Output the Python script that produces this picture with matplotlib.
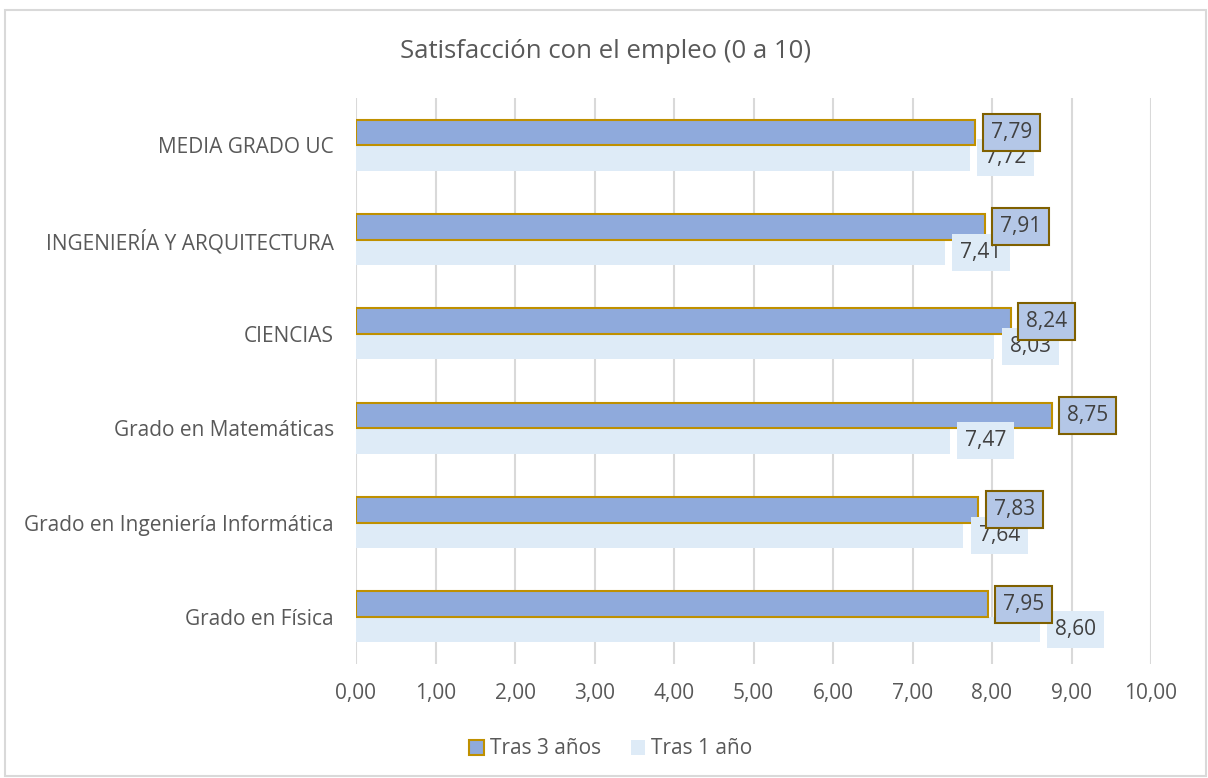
import matplotlib.pyplot as plt
from matplotlib.patches import Rectangle
import numpy as np

# Chart data
categories = [
    "MEDIA GRADO UC",
    "INGENIERÍA Y ARQUITECTURA",
    "CIENCIAS",
    "Grado en Matemáticas",
    "Grado en Ingeniería Informática",
    "Grado en Física",
]
tras_3_anos = [7.79, 7.91, 8.24, 8.75, 7.83, 7.95]
tras_1_ano = [7.72, 7.41, 8.03, 7.47, 7.64, 8.60]
x_ticks = [0, 1, 2, 3, 4, 5, 6, 7, 8, 9, 10]

plt.rcParams["font.family"] = ["Open Sans", "DejaVu Sans"]
text_color = "#595959"
color_3 = "#8faadc"
edge_3 = "#bf9000"
color_1 = "#deebf7"

fig = plt.figure(figsize=(12.08, 7.78), dpi=100)
ax = fig.add_axes([356 / 1208, 1 - 664 / 778, 795 / 1208, 566 / 778])

# Light grey outer frame like the spreadsheet chart area
fig.patches.append(Rectangle((5 / 1208, 0.002), 1201 / 1208, 1 - 10 / 778 - 0.002,
                             transform=fig.transFigure, fill=False,
                             edgecolor="#d9d9d9", linewidth=1.5))

y = np.arange(len(categories))
h = 0.27

ax.barh(y - h / 2, tras_3_anos, height=h, color=color_3, edgecolor=edge_3,
        linewidth=1.5, label="Tras 3 años", zorder=3)
ax.barh(y + h / 2, tras_1_ano, height=h, color=color_1, edgecolor="none",
        label="Tras 1 año", zorder=2)

# Data labels: 1 year first so the 3-year boxes sit on top
for yi, v in zip(y, tras_1_ano):
    ax.annotate(f"{v:.2f}".replace(".", ","), (v, yi + h / 2), xytext=(11, 0),
                textcoords="offset points", ha="left", va="center",
                fontsize=15, color="#404040", zorder=4,
                bbox=dict(boxstyle="square,pad=0.38", facecolor=color_1, edgecolor="none"))
for yi, v in zip(y, tras_3_anos):
    ax.annotate(f"{v:.2f}".replace(".", ","), (v, yi - h / 2), xytext=(11, 0),
                textcoords="offset points", ha="left", va="center",
                fontsize=15, color="#404040", zorder=5,
                bbox=dict(boxstyle="square,pad=0.38", facecolor="#b4c7e7",
                          edgecolor="#7f6000", linewidth=1.5))

ax.set_xlim(0, 10)
ax.set_ylim(len(categories) - 0.5, -0.5)
ax.set_xticks(x_ticks)
ax.set_xticklabels([f"{t:.2f}".replace(".", ",") for t in x_ticks])
ax.set_yticks(y)
ax.set_yticklabels(categories)
ax.tick_params(axis="both", length=0, labelsize=15, colors=text_color)
ax.tick_params(axis="x", pad=14)
ax.tick_params(axis="y", pad=16)
ax.grid(axis="x", color="#d9d9d9", linewidth=1.5, zorder=0)
for s in ax.spines.values():
    s.set_visible(False)

fig.text(606 / 1208, 1 - 52 / 778, "Satisfacción con el empleo (0 a 10)",
         ha="center", va="center", fontsize=18.5, color=text_color)

fig.legend(loc="center", bbox_to_anchor=(611 / 1208, 1 - 749 / 778), ncol=2,
           frameon=False, fontsize=15, labelcolor=text_color,
           handlelength=0.7, handleheight=0.7, columnspacing=1.4, handletextpad=0.3)

fig.savefig("out.png", dpi=100)
